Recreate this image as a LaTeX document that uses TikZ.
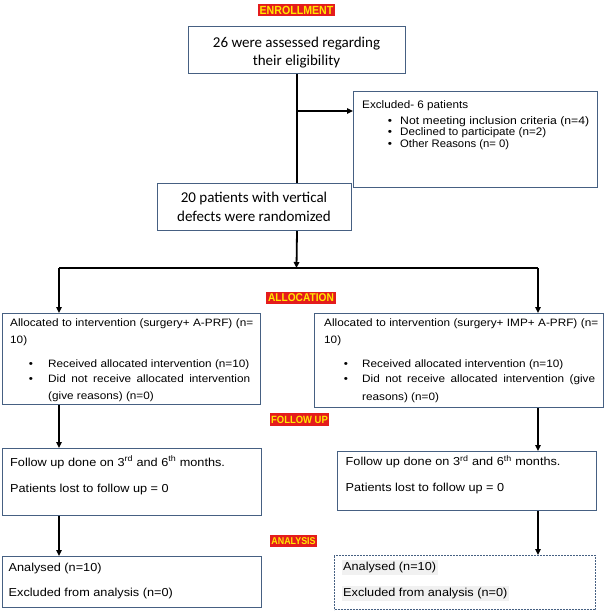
\documentclass[tikz,border=0pt]{standalone}
\usepackage{graphicx}
\usepackage{fontspec}
\setmainfont{Liberation Sans}
\newfontfamily\calib{Carlito}
\newfontfamily\bodyf[FakeStretch=1.1]{Liberation Sans}
\newfontfamily\labf[FakeStretch=0.9]{Liberation Sans}
\usetikzlibrary{arrows.meta}
\definecolor{boxc}{RGB}{70,96,130}
\definecolor{labred}{RGB}{228,28,28}
\definecolor{labyel}{RGB}{255,232,0}
\definecolor{hl}{RGB}{241,241,241}
\newcommand{\fitw}[2]{\resizebox{#1}{\height}{#2}}
\tikzset{
  box/.style={draw=boxc, line width=1pt, inner sep=0pt, anchor=north west},
  dbox/.style={box, dash pattern=on 2pt off 1pt},
  arr/.style={-{Triangle[length=6pt,width=5.5pt]}, line width=1.8pt, black},
  ln/.style={line width=1.8pt, black},
  lab/.style={fill=labred, text=labyel, inner sep=0pt, minimum height=12pt, font=\labf\bfseries},
  tx/.style={inner sep=0pt, anchor=base west},
  tc/.style={inner sep=0pt, anchor=base},
  bul/.style={inner sep=0pt, anchor=base},
  big/.style={font=\calib\fontsize{15}{18}\selectfont},
  sm/.style={font=\bodyf\fontsize{10.7}{12}\selectfont},
  ex/.style={font=\bodyf\fontsize{10.9}{12}\selectfont},
  md/.style={font=\bodyf\fontsize{11.55}{13}\selectfont},
  hlt/.style={tx, fill=hl, inner xsep=1.5pt, inner ysep=2.5pt}
}
\begin{document}
\begin{tikzpicture}[x=1pt,y=-1pt]
\useasboundingbox (0,0) rectangle (605,614);

% section labels
\node[lab, minimum width=77pt, font=\labf\bfseries\fontsize{11.8}{12}\selectfont] (l1) at (296.5,10) {ENROLLMENT};
\node[lab, minimum width=70pt, font=\labf\bfseries\fontsize{11.3}{12}\selectfont] (l2) at (301,298) {ALLOCATION};
\node[lab, minimum width=59pt, minimum height=13pt, font=\labf\bfseries\fontsize{10.5}{12}\selectfont] (l3) at (299.5,419.5) {FOLLOW UP};
\node[lab, minimum width=47pt, font=\labf\bfseries\fontsize{9.9}{12}\selectfont] (l4) at (293.5,541) {ANALYSIS};

% boxes
\node[box, minimum width=217pt, minimum height=47pt] (b1) at (188,26) {};
\node[box, minimum width=244pt, minimum height=96pt] (excl) at (353,91) {};
\node[box, minimum width=194pt, minimum height=47pt] (b2) at (157,183) {};
\node[box, minimum width=258pt, minimum height=91pt] (la) at (2,313) {};
\node[box, minimum width=289pt, minimum height=94pt] (ra) at (314,313) {};
\node[box, minimum width=259pt, minimum height=67pt] (lf) at (2,448) {};
\node[box, minimum width=259pt, minimum height=59pt] (rf) at (337,451) {};
\node[box, minimum width=259pt, minimum height=51pt] (lan) at (2,556) {};
\node[dbox, minimum width=261pt, minimum height=54pt] (ran) at (334,555) {};

% texts
\node[tc, big] (t1a) at (296.5,47) {26 were assessed regarding};
\node[tc, big] (t1b) at (296.5,65) {their eligibility};
\node[tc, big] (t2a) at (254,202) {20 patients with vertical};
\node[tc, big] (t2b) at (254,221.5) {defects were randomized};

\node[tx, ex] (e0) at (362,108) {\fitw{106pt}{Excluded- 6 patients}};
\node[bul, ex] (eb1) at (390,124) {\textbullet};
\node[bul, ex] (eb2) at (390,135.5) {\textbullet};
\node[bul, ex] (eb3) at (390,147) {\textbullet};
\node[tx, ex] (e1) at (400,124) {\fitw{189pt}{Not meeting inclusion criteria (n=4)}};
\node[tx, ex] (e2) at (400,135.5) {\fitw{146pt}{Declined to participate (n=2)}};
\node[tx, ex] (e3) at (400,147) {\fitw{109pt}{Other Reasons (n= 0)}};

\node[tx, sm] (a1) at (10,326.5) {\makebox[243pt][s]{Allocated to intervention (surgery+ A-PRF) (n=}};
\node[tx, sm] (a2) at (10,343) {10)};
\node[bul, sm] (ab1) at (31,367.5) {\textbullet};
\node[bul, sm] (ab2) at (31,382.5) {\textbullet};
\node[tx, sm] (a3) at (48,367.5) {Received allocated intervention (n=10)};
\node[tx, sm] (a4) at (48,382.5) {\makebox[202pt][s]{Did not receive allocated intervention}};
\node[tx, sm] (a5) at (48,399) {(give reasons) (n=0)};

\node[tx, sm] (r1) at (324,326) {\makebox[274pt][s]{Allocated to intervention (surgery+ IMP+ A-PRF) (n=}};
\node[tx, sm] (r2) at (324,343) {10)};
\node[bul, sm] (rb1) at (346,367) {\textbullet};
\node[bul, sm] (rb2) at (346,382) {\textbullet};
\node[tx, sm] (r3) at (362,367) {Received allocated intervention (n=10)};
\node[tx, sm] (r4) at (362,382) {\makebox[233pt][s]{Did not receive allocated intervention (give}};
\node[tx, sm] (r5) at (362,400.5) {reasons) (n=0)};

\node[tx, md] (f1) at (10,466) {Follow up done on 3\textsuperscript{rd} and 6\textsuperscript{th} months.};
\node[tx, md] (f2) at (10,492.5) {Patients lost to follow up = 0};
\node[tx, md] (g1) at (345.5,465.5) {Follow up done on 3\textsuperscript{rd} and 6\textsuperscript{th} months.};
\node[tx, md] (g2) at (345.5,491.5) {Patients lost to follow up = 0};

\node[tx, md] (n1) at (8.5,571) {Analysed (n=10)};
\node[tx, md] (n2) at (8.5,596.5) {Excluded from analysis (n=0)};
\node[hlt, md] (m1) at (341.5,570.5) {Analysed (n=10)\hspace{8pt}};
\node[hlt, md] (m2) at (341.5,596.5) {Excluded from analysis (n=0)\hspace{3pt}};

% connectors
\coordinate (br) at (296.5,111);
\coordinate (split) at (296.5,268);
\coordinate (sl) at (59,268);
\coordinate (sr) at (538,268);
\draw[ln] (b1.south) -- (b1.south |- b2.north);
\draw[arr] (br) -- (br -| excl.west);
\draw[arr] (b1.south |- b2.south) -- (split);
\draw[ln] (sl) -- (sr);
\draw[arr] (sl) -- (sl |- la.north);
\draw[arr] (sr) -- (sr |- ra.north);
\draw[arr] (sl |- la.south) -- (sl |- lf.north);
\draw[arr] (sr |- ra.south) -- (sr |- rf.north);
\draw[arr] (sl |- lf.south) -- (sl |- lan.north);
\draw[arr] (sr |- rf.south) -- (sr |- ran.north);
\end{tikzpicture}
\end{document}
